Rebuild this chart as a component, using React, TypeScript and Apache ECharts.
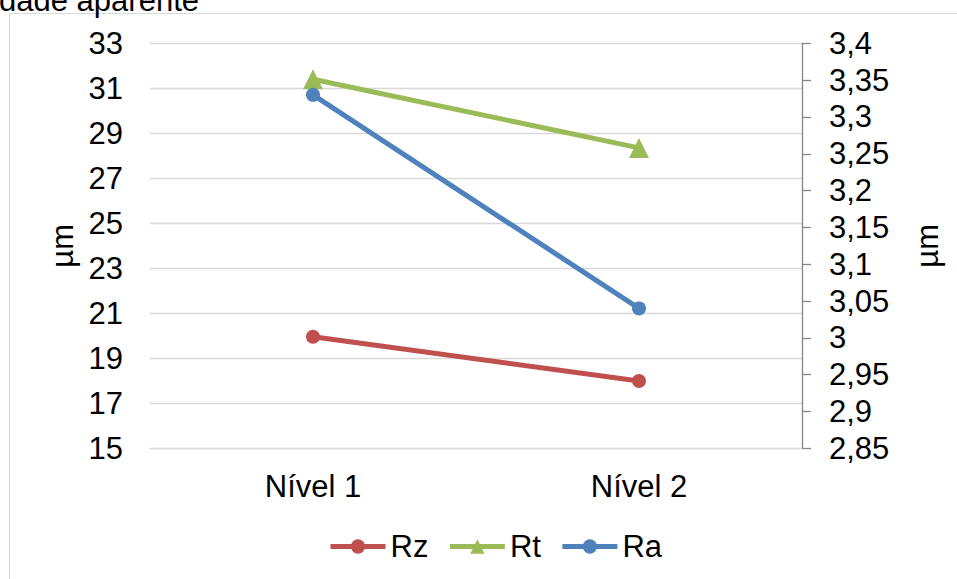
import React, { useEffect, useRef } from 'react';
import * as echarts from 'echarts';

const categories = ['Nível 1', 'Nível 2'];
const seriesNames = ['Rz', 'Rt', 'Ra'];
const rzValues = [19.96, 17.99];
const rtValues = [31.4, 28.35];
const raValues = [3.33, 3.04];
const leftAxisMin = 15;
const leftAxisMax = 33;
const leftAxisStep = 2;
const rightAxisMin = 2.85;
const rightAxisMax = 3.4;
const rightAxisStep = 0.05;
const titleText = 'Rugosidade aparente';
const axisName = 'µm';

const colors = ['#C0504D', '#9BBB59', '#4F81BD'];
const FONT = '"Liberation Sans", Arial, sans-serif';
const FS = 31;

export default function App() {
  const ref = useRef<HTMLDivElement>(null);
  useEffect(() => {
    if (!ref.current) return;
    const chart = echarts.init(ref.current, undefined, { renderer: 'svg' });
    const fmtComma = (v: number) => String(Math.round(v * 100) / 100).replace('.', ',');
    chart.setOption({
      animation: false,
      backgroundColor: '#ffffff',
      textStyle: { fontFamily: FONT },
      color: colors,
      graphic: [
        {
          type: 'rect',
          z: 0,
          shape: { x: 9.5, y: 13.5, width: 960, height: 580 },
          style: { fill: 'none', stroke: '#d9d9d9', lineWidth: 1 },
          silent: true,
        },
        {
          type: 'text',
          z: 10,
          style: {
            text: titleText,
            x: 199,
            y: 0,
            textAlign: 'right',
            textVerticalAlign: 'middle',
            fontSize: FS,
            fontFamily: FONT,
            fill: '#000000',
          },
        },
      ],
      grid: { left: 150, right: 155, top: 43.3, bottom: 130.7, containLabel: false },
      legend: {
        data: seriesNames,
        left: 328,
        top: 531,
        padding: 0,
        itemWidth: 55,
        itemHeight: 18,
        itemGap: 19,
        lineStyle: { width: 5 },
        textStyle: { fontSize: FS, color: '#000000', fontFamily: FONT },
      },
      xAxis: {
        type: 'category',
        data: categories,
        boundaryGap: true,
        axisLine: { show: true, lineStyle: { color: '#d9d9d9', width: 1 } },
        axisTick: { show: false },
        axisLabel: { fontSize: FS, color: '#000000', margin: 23, fontFamily: FONT },
        splitLine: { show: false },
      },
      yAxis: [
        {
          type: 'value',
          min: leftAxisMin,
          max: leftAxisMax,
          interval: leftAxisStep,
          position: 'left',
          name: axisName,
          nameLocation: 'middle',
          nameRotate: 90,
          nameGap: 70,
          nameTextStyle: { fontSize: FS, color: '#000000', fontFamily: FONT },
          axisLine: { show: false },
          axisTick: { show: false },
          axisLabel: { fontSize: FS, color: '#000000', margin: 27, fontFamily: FONT },
          splitLine: { show: true, lineStyle: { color: '#d9d9d9', width: 1.3 } },
        },
        {
          type: 'value',
          min: rightAxisMin,
          max: rightAxisMax,
          interval: rightAxisStep,
          position: 'right',
          name: axisName,
          nameLocation: 'middle',
          nameRotate: 90,
          nameGap: 110,
          nameTextStyle: { fontSize: FS, color: '#000000', fontFamily: FONT },
          axisLine: { show: true, lineStyle: { color: '#868686', width: 1.3 } },
          axisTick: { show: true, length: 9, lineStyle: { color: '#868686', width: 1.3 } },
          axisLabel: {
            fontSize: FS,
            color: '#000000',
            margin: 27,
            fontFamily: FONT,
            formatter: (v: number) => fmtComma(v),
          },
          splitLine: { show: false },
        },
      ],
      series: [
        {
          name: seriesNames[0],
          type: 'line',
          yAxisIndex: 0,
          data: rzValues,
          symbol: 'circle',
          symbolSize: 14,
          lineStyle: { width: 5, color: colors[0] },
          itemStyle: { color: colors[0] },
        },
        {
          name: seriesNames[1],
          type: 'line',
          yAxisIndex: 0,
          data: rtValues,
          symbol: 'triangle',
          symbolSize: 20,
          lineStyle: { width: 5, color: colors[1] },
          itemStyle: { color: colors[1] },
        },
        {
          name: seriesNames[2],
          type: 'line',
          yAxisIndex: 1,
          data: raValues,
          symbol: 'circle',
          symbolSize: 14,
          lineStyle: { width: 5, color: colors[2] },
          itemStyle: { color: colors[2] },
        },
      ],
    });
    return () => chart.dispose();
  }, []);
  return (
    <div
      ref={ref}
      style={{ position: 'fixed', left: 0, top: 0, width: 957, height: 579 }}
    />
  );
}
